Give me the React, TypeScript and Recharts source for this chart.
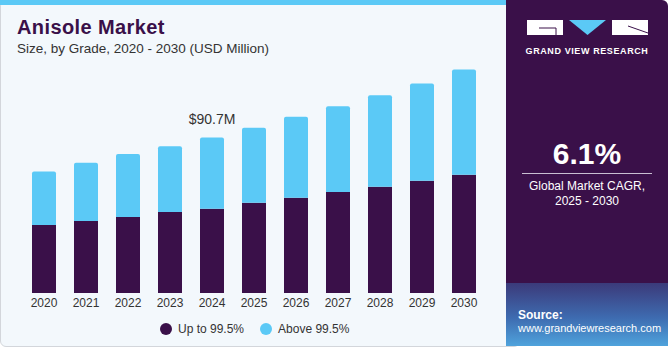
import * as React from 'react';
import { BarChart, Bar, XAxis, YAxis, Legend, LabelList } from 'recharts';

const years = ['2020', '2021', '2022', '2023', '2024', '2025', '2026', '2027', '2028', '2029', '2030'];
const upTo995 = [39.7, 42.0, 44.4, 47.3, 49.2, 52.6, 55.5, 58.9, 62.0, 65.5, 69.0];
const above995 = [31.2, 34.0, 36.7, 38.3, 41.5, 43.8, 47.3, 50.0, 53.3, 56.7, 61.4];
const labelYear = '2024';

const DARK = '#3A1049';
const BLUE = '#5BC9F6';
const FONT = '"Liberation Sans", Arial, sans-serif';

const data = years.map((year, i) => ({ year, up: upTo995[i], above: above995[i] }));

const renderTotal = (props: any) => {
    const { x, y, width, index } = props;
    if (years[index] !== labelYear) return null;
    const total = (upTo995[index] + above995[index]).toFixed(1);
    return (
        <text x={x + width / 2} y={y - 14} textAnchor="middle" fontSize={14} fill="#333" fontFamily={FONT}>
            ${total}M
        </text>
    );
};

const renderLegend = (props: any) => {
    const items = [...(props.payload || [])].sort((a: any, b: any) => (a.dataKey === 'up' ? -1 : b.dataKey === 'up' ? 1 : 0));
    return (
        <div style={{ display: 'flex', paddingLeft: 160, fontSize: 12, color: '#333', fontFamily: FONT }}>
            {items.map((it: any) => (
                <div key={it.dataKey} style={{ display: 'flex', alignItems: 'center', marginRight: 16 }}>
                    <span style={{ width: 12, height: 12, borderRadius: 6, background: it.color, display: 'inline-block', marginRight: 6 }} />
                    <span>{it.value}</span>
                </div>
            ))}
        </div>
    );
};

export default class App extends React.Component {
    public render() {
        return (
            <div style={{ position: 'absolute', left: 0, top: 0, width: 670, height: 350, background: '#fff', fontFamily: FONT }}>
                {/* left panel */}
                <div style={{ position: 'absolute', left: 0, top: 0, width: 520, height: 347, background: '#F3F8FC', border: '1px solid #D3D6DB', borderRadius: 6, boxSizing: 'border-box' }} />
                <div style={{ position: 'absolute', left: 0, top: 0, width: 506, height: 5, background: BLUE }} />
                <div style={{ position: 'absolute', left: 17, top: 16, fontSize: 20, fontWeight: 'bold', color: DARK, letterSpacing: 0.4 }}>Anisole Market</div>
                <div style={{ position: 'absolute', left: 17, top: 41, fontSize: 13.5, color: '#333' }}>Size, by Grade, 2020 - 2030 (USD Million)</div>

                <div style={{ position: 'absolute', left: 0, top: 0 }}>
                    <BarChart width={500} height={350} data={data} margin={{ top: 53, right: 15, left: 23, bottom: 23 }} barSize={24}>
                        <XAxis dataKey="year" tickLine={false} axisLine={false} height={20} tick={{ fontSize: 12, fill: '#333', fontFamily: FONT, dy: -3 }} />
                        <YAxis hide domain={[0, 140]} />
                        <Legend verticalAlign="bottom" content={renderLegend} wrapperStyle={{ left: 0, width: 500, bottom: 14 }} />
                        <Bar dataKey="up" name="Up to 99.5%" stackId="a" fill={DARK} isAnimationActive={false} />
                        <Bar dataKey="above" name="Above 99.5%" stackId="a" fill={BLUE} radius={[2, 2, 0, 0]} isAnimationActive={false}>
                            <LabelList dataKey="above" content={renderTotal} />
                        </Bar>
                    </BarChart>
                </div>

                {/* right panel */}
                <div style={{ position: 'absolute', left: 506, top: 0, width: 162, height: 346, background: DARK, borderTopRightRadius: 6, overflow: 'hidden' }}>
                    <div style={{ position: 'absolute', left: 0, top: 283, width: 162, height: 63, background: 'linear-gradient(180deg, #3B3A7A 0%, #3E6BB0 55%, #4FA3DC 100%)' }} />
                    <svg width={162} height={60} style={{ position: 'absolute', left: 0, top: 0 }}>
                        <rect x={21} y={20} width={36} height={15} fill="#fff" />
                        <path d="M 33 28 L 50 28 L 50 35" stroke={DARK} strokeWidth={1} fill="none" />
                        <polygon points="63,20 100,20 81.5,35" fill={BLUE} />
                        <rect x={106} y={20} width={36} height={15} fill="#fff" />
                        <path d="M 122 26 L 142 33" stroke={DARK} strokeWidth={1} fill="none" />
                        <text x={81} y={54} textAnchor="middle" fontSize={9} fontWeight="bold" fill="#fff" letterSpacing={0.6} fontFamily={FONT}>GRAND VIEW RESEARCH</text>
                    </svg>
                    <div style={{ position: 'absolute', left: 0, top: 137, width: 162, textAlign: 'center', fontSize: 30, fontWeight: 'bold', color: '#fff' }}>6.1%</div>
                    <div style={{ position: 'absolute', left: 16, top: 173, width: 130, height: 1, background: '#C9BFD2' }} />
                    <div style={{ position: 'absolute', left: 0, top: 179, width: 162, textAlign: 'center', fontSize: 12, lineHeight: '15px', color: '#fff' }}>
                        Global Market CAGR,<br />2025 - 2030
                    </div>
                    <div style={{ position: 'absolute', left: 12, top: 308, fontSize: 12, fontWeight: 'bold', color: '#fff' }}>Source:</div>
                    <div style={{ position: 'absolute', left: 12, top: 322, fontSize: 11, color: '#fff' }}>www.grandviewresearch.com</div>
                </div>
            </div>
        );
    }
}
